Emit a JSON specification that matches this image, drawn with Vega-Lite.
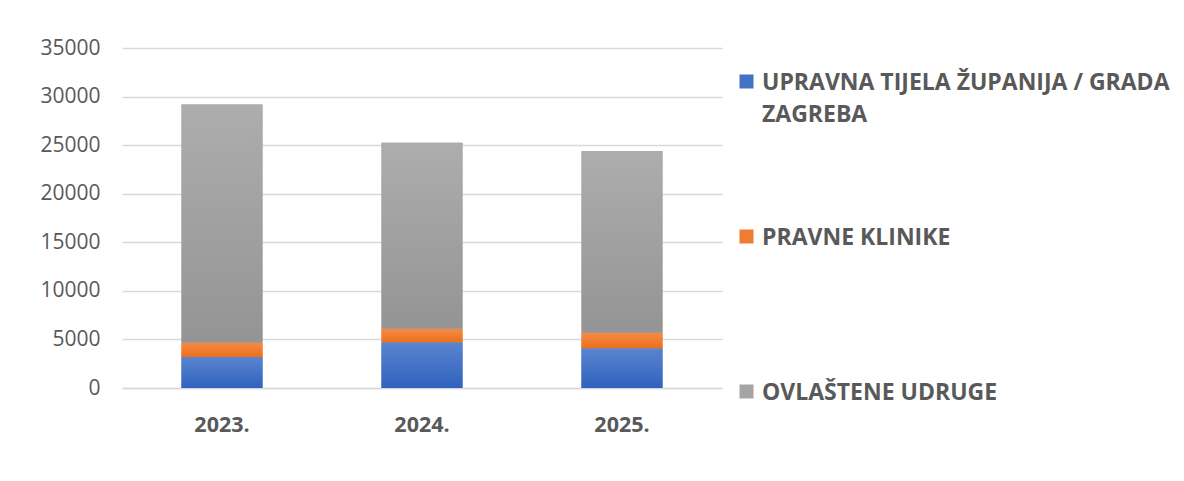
{
  "$schema": "https://vega.github.io/schema/vega-lite/v6.json",
  "width": 600,
  "height": 340,
  "autosize": {"type": "none"},
  "padding": {"left": 122, "top": 48, "right": 462, "bottom": 93},
  "background": "white",
  "config": {
    "view": {"stroke": null},
    "font": "Open Sans"
  },
  "data": {
    "values": [
      {"year": "2023.", "series": "UPRAVNA TIJELA ŽUPANIJA / GRADA ZAGREBA", "value": 3200},
      {"year": "2023.", "series": "PRAVNE KLINIKE", "value": 1450},
      {"year": "2023.", "series": "OVLAŠTENE UDRUGE", "value": 24530},
      {"year": "2024.", "series": "UPRAVNA TIJELA ŽUPANIJA / GRADA ZAGREBA", "value": 4700},
      {"year": "2024.", "series": "PRAVNE KLINIKE", "value": 1400},
      {"year": "2024.", "series": "OVLAŠTENE UDRUGE", "value": 19150},
      {"year": "2025.", "series": "UPRAVNA TIJELA ŽUPANIJA / GRADA ZAGREBA", "value": 4100},
      {"year": "2025.", "series": "PRAVNE KLINIKE", "value": 1600},
      {"year": "2025.", "series": "OVLAŠTENE UDRUGE", "value": 18700}
    ]
  },
  "transform": [
    {"stack": "value", "groupby": ["year"], "sort": [{"field": "series", "order": "descending"}], "as": ["v0", "v1"]}
  ],
  "encoding": {
    "x": {
      "field": "year",
      "type": "nominal",
      "title": null,
      "scale": {"paddingInner": 0.595, "paddingOuter": 0.2975},
      "axis": {
        "labelAngle": 0,
        "labelFontSize": 21.5,
        "labelFontWeight": "bold",
        "labelColor": "#595959",
        "labelPadding": 26,
        "ticks": false,
        "domainColor": "#d9d9d9",
        "domainWidth": 1.5
      }
    },
    "y": {
      "field": "v0",
      "type": "quantitative",
      "title": null,
      "scale": {"domain": [0, 35000], "nice": false},
      "axis": {
        "values": [0, 5000, 10000, 15000, 20000, 25000, 30000, 35000],
        "format": "d",
        "labelFontSize": 21,
        "labelColor": "#595959",
        "labelPadding": 22,
        "ticks": false,
        "domain": false,
        "gridColor": "#d9d9d9",
        "gridWidth": 1.3
      }
    },
    "y2": {"field": "v1"}
  },
  "layer": [
    {
      "mark": {"type": "bar"},
      "encoding": {
        "color": {
          "field": "series",
          "type": "nominal",
          "sort": ["UPRAVNA TIJELA ŽUPANIJA / GRADA ZAGREBA", "PRAVNE KLINIKE", "OVLAŠTENE UDRUGE"],
          "scale": {
            "domain": ["UPRAVNA TIJELA ŽUPANIJA / GRADA ZAGREBA", "PRAVNE KLINIKE", "OVLAŠTENE UDRUGE"],
            "range": ["#4472C4", "#ED7D31", "#A5A5A5"]
          },
          "legend": {
            "title": null,
            "orient": "none",
            "legendX": 613,
            "legendY": 22,
            "padding": 0,
            "symbolType": "square",
            "symbolSize": 196,
            "symbolStrokeWidth": 0,
            "labelFontSize": 23,
            "labelFontWeight": "bold",
            "labelColor": "#595959",
            "labelLimit": 600,
            "labelOffset": 4,
            "labelBaseline": "top",
            "rowPadding": 98,
            "labelExpr": "datum.label == 'UPRAVNA TIJELA ŽUPANIJA / GRADA ZAGREBA' ? ['UPRAVNA TIJELA ŽUPANIJA / GRADA', 'ZAGREBA'] : [datum.label, '']",
            "encode": {
              "labels": {"update": {"lineHeight": {"value": 32}, "dy": {"value": -10}}}
            }
          }
        }
      }
    },
    {
      "mark": {"type": "bar"},
      "encoding": {
        "color": {
          "condition": [
            {"test": "datum.series == 'PRAVNE KLINIKE'", "value": {"gradient": "linear", "x1": 0, "y1": 0, "x2": 0, "y2": 1, "stops": [{"offset": 0, "color": "#f58b46"}, {"offset": 1, "color": "#ec6f1b"}]}},
            {"test": "datum.series == 'OVLAŠTENE UDRUGE'", "value": {"gradient": "linear", "x1": 0, "y1": 0, "x2": 0, "y2": 1, "stops": [{"offset": 0, "color": "#adadad"}, {"offset": 1, "color": "#949494"}]}}
          ],
          "value": {"gradient": "linear", "x1": 0, "y1": 0, "x2": 0, "y2": 1, "stops": [{"offset": 0, "color": "#5b84d0"}, {"offset": 1, "color": "#2f62be"}]}
        }
      }
    }
  ]
}
